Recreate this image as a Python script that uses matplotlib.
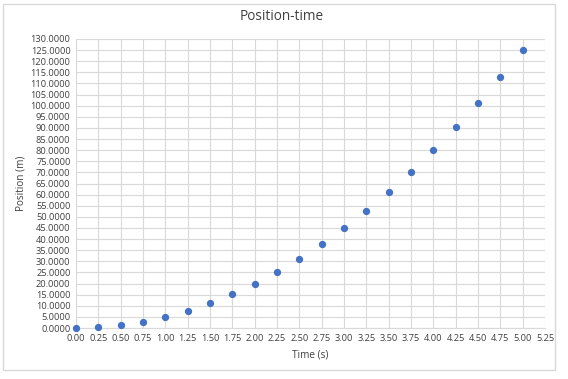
import numpy as np
import matplotlib.pyplot as plt
from matplotlib.patches import Rectangle

plt.rcParams['font.family'] = ['Open Sans', 'DejaVu Sans']

# data
time_s = [0.00, 0.25, 0.50, 0.75, 1.00, 1.25, 1.50, 1.75, 2.00, 2.25, 2.50,
          2.75, 3.00, 3.25, 3.50, 3.75, 4.00, 4.25, 4.50, 4.75, 5.00]
position_m = [0.0, 0.3125, 1.25, 2.8125, 5.0, 7.8125, 11.25, 15.3125, 20.0,
              25.3125, 31.25, 37.8125, 45.0, 52.8125, 61.25, 70.3125, 80.0,
              90.3125, 101.25, 112.8125, 125.0]

fig = plt.figure(figsize=(5.68, 3.79), dpi=100)
ax = fig.add_axes([76 / 568, 1 - 328 / 379, (545 - 76) / 568, (328 - 39) / 379])

# chart border like a spreadsheet chart
fig.patches.append(Rectangle((3 / 568, 1 - 370 / 379), 552 / 568, 366 / 379,
                             transform=fig.transFigure, fill=False,
                             edgecolor='#d9d9d9', linewidth=1))

ax.scatter(time_s, position_m, s=18, color='#4472C4', zorder=3, clip_on=False)

ax.set_xlim(0, 5.25)
ax.set_ylim(0, 130)
ax.set_xticks(np.arange(0, 5.26, 0.25))
ax.set_yticks(np.arange(0, 130.1, 5))
ax.set_xticklabels([f'{v:.2f}' for v in np.arange(0, 5.26, 0.25)])
ax.set_yticklabels([f'{v:.4f}' for v in np.arange(0, 130.1, 5)])
ax.tick_params(length=0, labelsize=6.7, labelcolor='#404040', pad=4)

ax.grid(color='#d9d9d9', linewidth=0.8)
ax.set_axisbelow(True)
for side in ['top', 'right', 'left']:
    ax.spines[side].set_visible(False)
ax.spines['bottom'].set_color('#d9d9d9')

ax.set_xlabel('Time (s)', fontsize=7.2, color='#404040', labelpad=5)
ax.set_ylabel('Position (m)', fontsize=7.2, color='#404040', labelpad=3)
fig.text(282 / 568, 1 - 17 / 379, 'Position-time', ha='center', va='center',
         fontsize=9.8, color='#404040')

plt.savefig('out.png', dpi=100)
